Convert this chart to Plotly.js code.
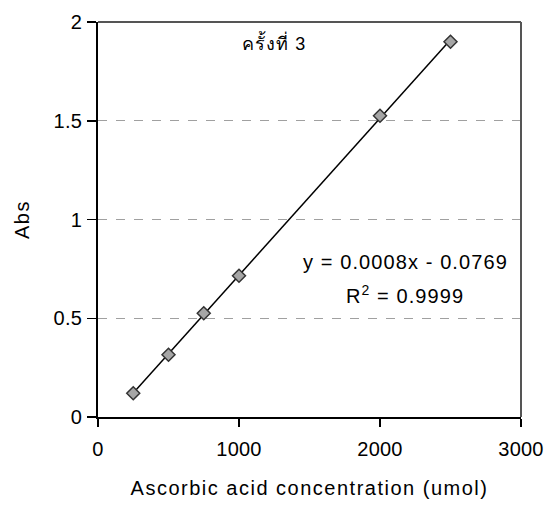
<!DOCTYPE html>
<html>
<head>
<meta charset="utf-8">
<script src="https://cdn.plot.ly/plotly-3.0.1.min.js"></script>
<style>
html,body{margin:0;padding:0;background:#fff;}
#chart{width:549px;height:509px;}
#chart svg .xtitle, #chart svg .ytitle{letter-spacing:1.5px;}
#chart svg .annotation-text{letter-spacing:1.1px;}
#chart svg .xtick text, #chart svg .ytick text{letter-spacing:0.2px;}
</style>
</head>
<body>
<div id="chart"></div>
<script>
const concentration = [250, 500, 750, 1000, 2000, 2500];
const absorbance = [0.12, 0.315, 0.525, 0.715, 1.525, 1.9];
const xTicks = [0, 1000, 2000, 3000];
const yTicks = [0, 0.5, 1, 1.5, 2];
const yTickLabels = ['0', '0.5', '1', '1.5', '2'];
const chartTitle = 'ครั้งที่ 3';
const equationText = 'y = 0.0008x - 0.0769';
const r2Text = 'R<sup>2</sup> = 0.9999';

// least squares trendline from the data
const n = concentration.length;
const mx = concentration.reduce((a, b) => a + b, 0) / n;
const my = absorbance.reduce((a, b) => a + b, 0) / n;
let sxy = 0, sxx = 0;
for (let i = 0; i < n; i++) { sxy += (concentration[i] - mx) * (absorbance[i] - my); sxx += (concentration[i] - mx) ** 2; }
const slope = sxy / sxx, intercept = my - slope * mx;
const lineX = [concentration[0], concentration[n - 1]];
const lineY = lineX.map(x => slope * x + intercept);

const font = 'Liberation Sans, Arial, sans-serif';
const traces = [
  {x: lineX, y: lineY, mode: 'lines', line: {color: '#000', width: 1.5}, hoverinfo: 'skip'},
  {x: concentration, y: absorbance, mode: 'markers',
   marker: {symbol: 'diamond', size: 10, color: '#a6a6a6', line: {color: '#333', width: 1.5}}}
];
const layout = {
  width: 549, height: 509,
  margin: {l: 98, r: 28, t: 22, b: 92},
  showlegend: false,
  paper_bgcolor: '#fff', plot_bgcolor: '#fff',
  font: {family: font, size: 20, color: '#000'},
  xaxis: {range: [0, 3000], tickvals: xTicks, ticks: 'outside', ticklen: 8, tickwidth: 1.5, tickcolor: '#000',
          ticklabelstandoff: 5,
          showline: true, linecolor: '#000', linewidth: 2, showgrid: false, zeroline: false,
          tickfont: {size: 20}, title: {text: 'Ascorbic acid concentration (umol)', font: {size: 20}, standoff: 22}},
  yaxis: {range: [0, 2], tickvals: yTicks, ticktext: yTickLabels, ticks: 'outside', ticklen: 9, tickwidth: 1.5, tickcolor: '#000',
          ticklabelstandoff: 1,
          showline: true, linecolor: '#000', linewidth: 2, showgrid: true, gridcolor: '#a0a0a0', griddash: 'dash', gridwidth: 1,
          zeroline: false, tickfont: {size: 20}, title: {text: 'Abs', font: {size: 20}, standoff: 19}},
  shapes: [
    {type: 'line', xref: 'paper', yref: 'paper', x0: 0, x1: 1, y0: 1, y1: 1, line: {color: '#555', width: 2}},
    {type: 'line', xref: 'paper', yref: 'paper', x0: 1, x1: 1, y0: 0, y1: 1, line: {color: '#555', width: 2}}
  ],
  annotations: [
    {xref: 'paper', yref: 'paper', x: 0.415, y: 0.947, xanchor: 'center', yanchor: 'middle', text: chartTitle, showarrow: false, font: {size: 18}},
    {xref: 'paper', yref: 'paper', x: 0.726, y: 0.392, xanchor: 'center', yanchor: 'middle', text: equationText, showarrow: false, font: {size: 20}},
    {xref: 'paper', yref: 'paper', x: 0.726, y: 0.309, xanchor: 'center', yanchor: 'middle', text: r2Text, showarrow: false, font: {size: 20}}
  ]
};
Plotly.newPlot('chart', traces, layout, {displayModeBar: false, staticPlot: true});
</script>
</body>
</html>
